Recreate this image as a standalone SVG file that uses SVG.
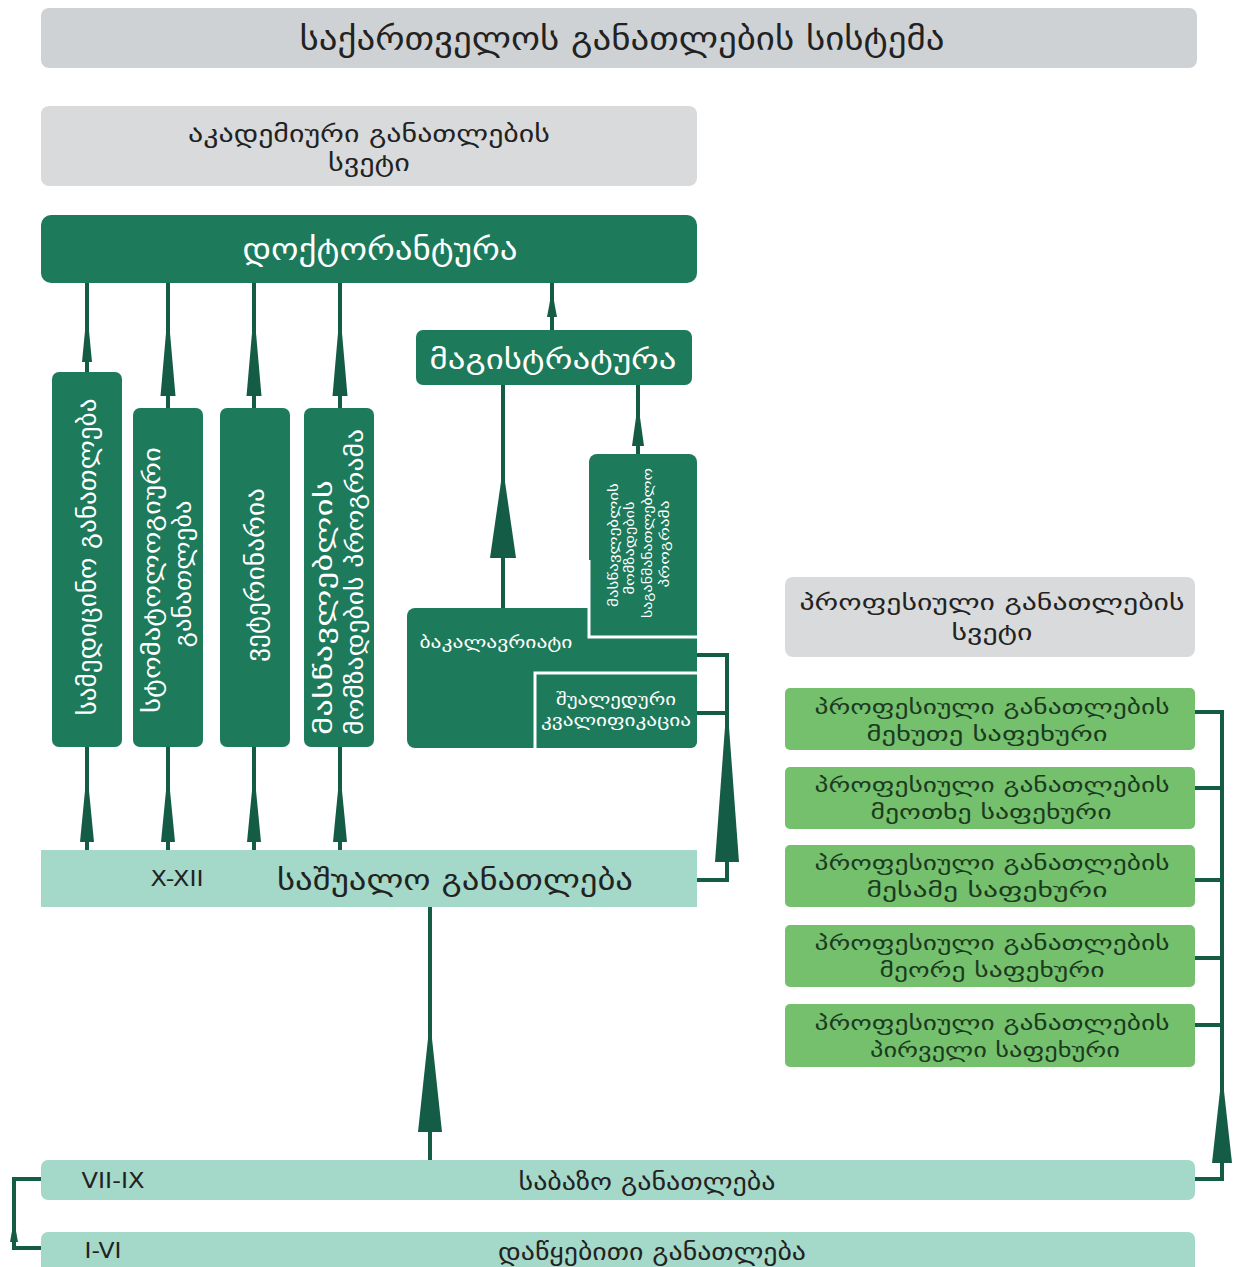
<svg xmlns="http://www.w3.org/2000/svg" width="1234" height="1267" viewBox="0 0 1234 1267">
<style>
text{font-family:"DejaVu Sans","Noto Sans",sans-serif;text-anchor:middle;dominant-baseline:central}
.grey{fill:#d8dadc}
.dk{fill:#1d7a5a}
.teal{fill:#a4d8c8}
.lg{fill:#74c06d}
.w{fill:#ffffff}
.t{fill:#222222}
.tg{fill:#1c3a1f}
.st{text-anchor:start}
.ln{stroke:#145c45;stroke-width:4;fill:none}
.ah{fill:#145c45}
</style>
<rect width="1234" height="1267" fill="#ffffff"/>
<g id="title"><rect x="41" y="8" width="1156" height="60" rx="8" fill="#cfd2d4"/><text x="622" y="39" font-size="32" class="t" textLength="645" lengthAdjust="spacingAndGlyphs">საქართველოს განათლების სისტემა</text></g>
<g id="acad-header"><rect x="41" y="106" width="656" height="80" rx="8" class="grey"/><text x="369" y="134" font-size="23" class="t" textLength="362" lengthAdjust="spacingAndGlyphs">აკადემიური განათლების</text><text x="369" y="163" font-size="23" class="t" textLength="82" lengthAdjust="spacingAndGlyphs">სვეტი</text></g>
<g id="doctorate"><rect x="41" y="215" width="656" height="68" rx="10" class="dk"/><text x="380" y="249" font-size="30" class="w" textLength="275" lengthAdjust="spacingAndGlyphs">დოქტორანტურა</text></g>
<g id="masters"><rect x="416" y="330" width="276" height="55" rx="7" class="dk"/><text x="553" y="359" font-size="28" class="w" textLength="247" lengthAdjust="spacingAndGlyphs">მაგისტრატურა</text></g>
<g id="medicine"><rect x="52" y="372" width="70" height="375" rx="7" class="dk"/><text transform="translate(87,557) rotate(-90)" font-size="25" class="w" textLength="317" lengthAdjust="spacingAndGlyphs">სამედიცინო განათლება</text></g>
<g id="dentistry"><rect x="133" y="408" width="70" height="339" rx="7" class="dk"/><text transform="translate(152,580) rotate(-90)" font-size="23" class="w" textLength="266" lengthAdjust="spacingAndGlyphs">სტომატოლოგიური</text><text transform="translate(183,574) rotate(-90)" font-size="23" class="w" textLength="147" lengthAdjust="spacingAndGlyphs">განათლება</text></g>
<g id="veterinary"><rect x="220" y="408" width="70" height="339" rx="7" class="dk"/><text transform="translate(255,575) rotate(-90)" font-size="25" class="w" textLength="174" lengthAdjust="spacingAndGlyphs">ვეტერინარია</text></g>
<g id="teacher-prog"><rect x="304" y="408" width="70" height="339" rx="7" class="dk"/><text transform="translate(324,735) rotate(-90)" font-size="23" class="w st" textLength="255" lengthAdjust="spacingAndGlyphs">მასწავლებლის</text><text transform="translate(355,735) rotate(-90)" font-size="23" class="w st" textLength="306" lengthAdjust="spacingAndGlyphs">მომზადების პროგრამა</text></g>
<g id="bachelor"><rect x="407" y="608" width="290" height="140" rx="8" class="dk"/><text x="496" y="642" font-size="17" class="w" textLength="153" lengthAdjust="spacingAndGlyphs">ბაკალავრიატი</text></g>
<g id="teacher-edu"><rect x="589" y="454" width="108" height="183" rx="8" class="dk"/><path d="M589,560 V637 H697" stroke="#ffffff" stroke-width="3" fill="none"/><text transform="translate(613,545) rotate(-90)" font-size="13" class="w" textLength="124" lengthAdjust="spacingAndGlyphs">მასწავლებლის</text><text transform="translate(629,548) rotate(-90)" font-size="13" class="w" textLength="93" lengthAdjust="spacingAndGlyphs">მომზადების</text><text transform="translate(647,543) rotate(-90)" font-size="13" class="w" textLength="150" lengthAdjust="spacingAndGlyphs">საგანმანათლებლო</text><text transform="translate(664,544) rotate(-90)" font-size="13" class="w" textLength="87" lengthAdjust="spacingAndGlyphs">პროგრამა</text></g>
<g id="intermediate"><rect x="535" y="673" width="162" height="75" rx="6" class="dk"/><path d="M535,748 V673 H697" stroke="#ffffff" stroke-width="3" fill="none"/><text x="616" y="699" font-size="16" class="w" textLength="120" lengthAdjust="spacingAndGlyphs">შუალედური</text><text x="616" y="720" font-size="16" class="w" textLength="150" lengthAdjust="spacingAndGlyphs">კვალიფიკაცია</text></g>
<g id="secondary"><rect x="41" y="850" width="656" height="57" class="teal"/><text x="177" y="879" font-size="21" class="t" textLength="53" lengthAdjust="spacingAndGlyphs">X-XII</text><text x="455" y="880" font-size="29" class="t" textLength="356" lengthAdjust="spacingAndGlyphs">საშუალო განათლება</text></g>
<g id="prof-header"><rect x="785" y="577" width="410" height="80" rx="8" class="grey"/><text x="992" y="602" font-size="22" class="t" textLength="385" lengthAdjust="spacingAndGlyphs">პროფესიული განათლების</text><text x="992" y="632" font-size="22" class="t" textLength="81" lengthAdjust="spacingAndGlyphs">სვეტი</text></g>
<g id="prof5"><rect x="785" y="688" width="410" height="62" rx="5" class="lg"/><text x="992" y="707" font-size="20" class="tg" textLength="355" lengthAdjust="spacingAndGlyphs">პროფესიული განათლების</text><text x="987" y="734" font-size="20" class="tg" textLength="241" lengthAdjust="spacingAndGlyphs">მეხუთე საფეხური</text></g>
<g id="prof4"><rect x="785" y="767" width="410" height="62" rx="5" class="lg"/><text x="992" y="785" font-size="20" class="tg" textLength="355" lengthAdjust="spacingAndGlyphs">პროფესიული განათლების</text><text x="991" y="812" font-size="20" class="tg" textLength="241" lengthAdjust="spacingAndGlyphs">მეოთხე საფეხური</text></g>
<g id="prof3"><rect x="785" y="845" width="410" height="62" rx="5" class="lg"/><text x="992" y="863" font-size="20" class="tg" textLength="355" lengthAdjust="spacingAndGlyphs">პროფესიული განათლების</text><text x="987" y="890" font-size="20" class="tg" textLength="241" lengthAdjust="spacingAndGlyphs">მესამე საფეხური</text></g>
<g id="prof2"><rect x="785" y="925" width="410" height="62" rx="5" class="lg"/><text x="992" y="943" font-size="20" class="tg" textLength="355" lengthAdjust="spacingAndGlyphs">პროფესიული განათლების</text><text x="992" y="970" font-size="20" class="tg" textLength="225" lengthAdjust="spacingAndGlyphs">მეორე საფეხური</text></g>
<g id="prof1"><rect x="785" y="1004" width="410" height="63" rx="5" class="lg"/><text x="992" y="1023" font-size="20" class="tg" textLength="355" lengthAdjust="spacingAndGlyphs">პროფესიული განათლების</text><text x="995" y="1050" font-size="20" class="tg" textLength="250" lengthAdjust="spacingAndGlyphs">პირველი საფეხური</text></g>
<g id="basic"><rect x="41" y="1160" width="1154" height="40" rx="7" class="teal"/><text x="113" y="1181" font-size="21" class="t" textLength="63" lengthAdjust="spacingAndGlyphs">VII-IX</text><text x="647" y="1182" font-size="23" class="t" textLength="257" lengthAdjust="spacingAndGlyphs">საბაზო განათლება</text></g>
<g id="primary"><rect x="41" y="1232" width="1154" height="45" rx="7" class="teal"/><text x="103" y="1251" font-size="21" class="t" textLength="37" lengthAdjust="spacingAndGlyphs">I-VI</text><text x="652" y="1252" font-size="23" class="t" textLength="308" lengthAdjust="spacingAndGlyphs">დაწყებითი განათლება</text></g>
<g id="connectors">
<path class="ln" d="M87,372 V283 M168,408 V283 M254,408 V283 M340,408 V283 M552,330 V283 M503,608 V385 M638,454 V385"/>
<path class="ln" d="M87,850 V747 M168,850 V747 M254,850 V747 M340,850 V747"/>
<path class="ln" d="M697,880 H727 V655 H697 M727,713 H697"/>
<path class="ln" d="M430,1160 V907"/>
<path class="ln" d="M1195,712 H1222 V1179 H1195 M1195,788 H1222 M1195,880 H1222 M1195,958 H1222 M1195,1025 H1222"/>
<path class="ln" d="M41,1179 H14 V1248 H41"/>
<polygon class="ah" points="87,310 82,362 92,362"/>
<polygon class="ah" points="168,310 160.5,396 175.5,396"/>
<polygon class="ah" points="254,310 246.5,396 261.5,396"/>
<polygon class="ah" points="340,310 332.5,396 347.5,396"/>
<polygon class="ah" points="552,290 547,317 557,317"/>
<polygon class="ah" points="503,468 490,558 516,558"/>
<polygon class="ah" points="638,403 632,446 644,446"/>
<polygon class="ah" points="87,770 80,842 94,842"/>
<polygon class="ah" points="168,770 161,842 175,842"/>
<polygon class="ah" points="254,770 247,842 261,842"/>
<polygon class="ah" points="340,770 333,842 347,842"/>
<polygon class="ah" points="727,700 715,862 739,862"/>
<polygon class="ah" points="430,1020 418,1132 442,1132"/>
<polygon class="ah" points="1222,1073 1212,1163 1232,1163"/>
<polygon class="ah" points="14,1220 10,1242 18,1242"/>
</g>
</svg>
